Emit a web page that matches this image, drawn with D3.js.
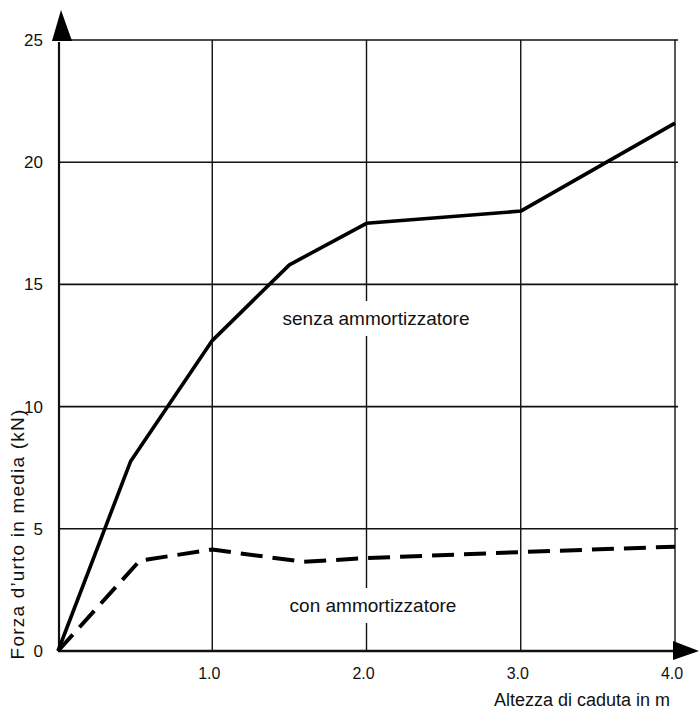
<!DOCTYPE html>
<html>
<head>
<meta charset="utf-8">
<script src="https://cdn.jsdelivr.net/npm/d3@7"></script>
<style>
  body { margin: 0; background: #fff; }
  text { font-family: "Liberation Sans", Arial, Helvetica, sans-serif; fill: #111; }
</style>
</head>
<body>
<div id="canvas1"></div>
<script>

// data
var xTicks = [1.0, 2.0, 3.0, 4.0];
var yTicks = [0, 5, 10, 15, 20, 25];

var senzaX = [0, 0.47, 1.0, 1.5, 2.0, 3.0, 4.0];
var senzaY = [0, 7.75, 12.7, 15.8, 17.5, 18.0, 21.6];

var conX = [0, 0.53, 1.0, 1.59, 2.0, 3.0, 4.0];
var conY = [0, 3.7, 4.15, 3.65, 3.8, 4.05, 4.27];

var labelSenza = "senza ammortizzatore";
var labelCon = "con ammortizzatore";

var W = 699, H = 710;

var svg = d3.select("#canvas1").append("svg")
            .attr("width", W)
            .attr("height", H);

var x = d3.scaleLinear().domain([0, 4]).range([58, 675]);
var y = d3.scaleLinear().domain([0, 25]).range([651, 40]);

var grid = svg.append("g");

// horizontal grid
grid.selectAll("line.h")
    .data(yTicks.filter(function(d){ return d > 0; }))
    .enter()
    .append("line")
    .attr("class", "h")
    .attr("x1", x(0))
    .attr("x2", x(4) + 3)
    .attr("y1", function(d){ return y(d); })
    .attr("y2", function(d){ return y(d); })
    .attr("stroke", "#111")
    .attr("stroke-width", 1.6);

// vertical grid
grid.selectAll("line.v")
    .data(xTicks)
    .enter()
    .append("line")
    .attr("class", "v")
    .attr("x1", function(d){ return x(d); })
    .attr("x2", function(d){ return x(d); })
    .attr("y1", y(25))
    .attr("y2", y(0))
    .attr("stroke", "#111")
    .attr("stroke-width", 1.4);

// axis lines
svg.append("line")
   .attr("x1", x(0)).attr("x2", 680)
   .attr("y1", y(0)).attr("y2", y(0))
   .attr("stroke", "#111").attr("stroke-width", 2.5);
svg.append("line")
   .attr("x1", x(0) + 1).attr("x2", x(0) + 1)
   .attr("y1", y(0) + 1).attr("y2", y(25) + 2)
   .attr("stroke", "#111").attr("stroke-width", 2.2);

// arrow heads
svg.append("path")
   .attr("d", "M" + (x(0) - 6) + "," + (y(25) + 1) + " L" + (x(0) + 14) + "," + (y(25) + 1) + " L" + (x(0) + 3) + ",10 Z")
   .attr("fill", "#000");
svg.append("path")
   .attr("d", "M673," + (y(0) - 10) + " L699," + y(0) + " L673," + (y(0) + 9) + " Z")
   .attr("fill", "#000");

// tick labels
svg.selectAll("text.xt")
   .data(xTicks)
   .enter()
   .append("text")
   .attr("class", "xt")
   .attr("x", function(d){ return x(d) - 3; })
   .attr("y", y(0) + 28)
   .attr("text-anchor", "middle")
   .attr("font-size", "16px")
   .text(function(d){ return d.toFixed(1); });

svg.selectAll("text.yt")
   .data(yTicks)
   .enter()
   .append("text")
   .attr("class", "yt")
   .attr("x", 43)
   .attr("y", function(d){ return y(d) + 6; })
   .attr("text-anchor", "end")
   .attr("font-size", "17px")
   .text(function(d){ return d; });

// axis titles
svg.append("text")
   .attr("x", 670)
   .attr("y", 706)
   .attr("text-anchor", "end")
   .attr("font-size", "18px")
   .text("Altezza di caduta in m");

svg.append("text")
   .attr("transform", "translate(24,534) rotate(-90)")
   .attr("text-anchor", "middle")
   .attr("font-size", "19px")
   .attr("letter-spacing", "1.2px")
   .text("Forza d\u2019urto in media (kN)");

// curve labels with white box (they cut the 2.0 grid line)
function boxLabel(txt, cx, cy) {
    var g = svg.append("g");
    var t = g.append("text")
             .attr("x", cx)
             .attr("y", cy)
             .attr("text-anchor", "middle")
             .attr("font-size", "19px")
             .text(txt);
    var bb = t.node().getBBox();
    g.insert("rect", "text")
     .attr("x", bb.x - 4)
     .attr("y", bb.y - 7)
     .attr("width", bb.width + 8)
     .attr("height", bb.height + 14)
     .attr("fill", "#fff");
}
boxLabel(labelSenza, 376, 325);
boxLabel(labelCon, 373, 612);

// lines
var line = d3.line()
             .x(function(d){ return x(d[0]); })
             .y(function(d){ return y(d[1]); });

var senza = senzaX.map(function(v, i){ return [v, senzaY[i]]; });
var con = conX.map(function(v, i){ return [v, conY[i]]; });

svg.append("path")
   .datum(senza)
   .attr("d", line)
   .attr("fill", "none")
   .attr("stroke", "#000")
   .attr("stroke-width", 3.6)
   .attr("stroke-linejoin", "round");

svg.append("path")
   .datum(con)
   .attr("d", line)
   .attr("fill", "none")
   .attr("stroke", "#000")
   .attr("stroke-width", 4)
   .attr("stroke-dasharray", "22,10")
   .attr("stroke-linecap", "butt")
   .attr("stroke-linejoin", "round");

</script>
</body>
</html>
